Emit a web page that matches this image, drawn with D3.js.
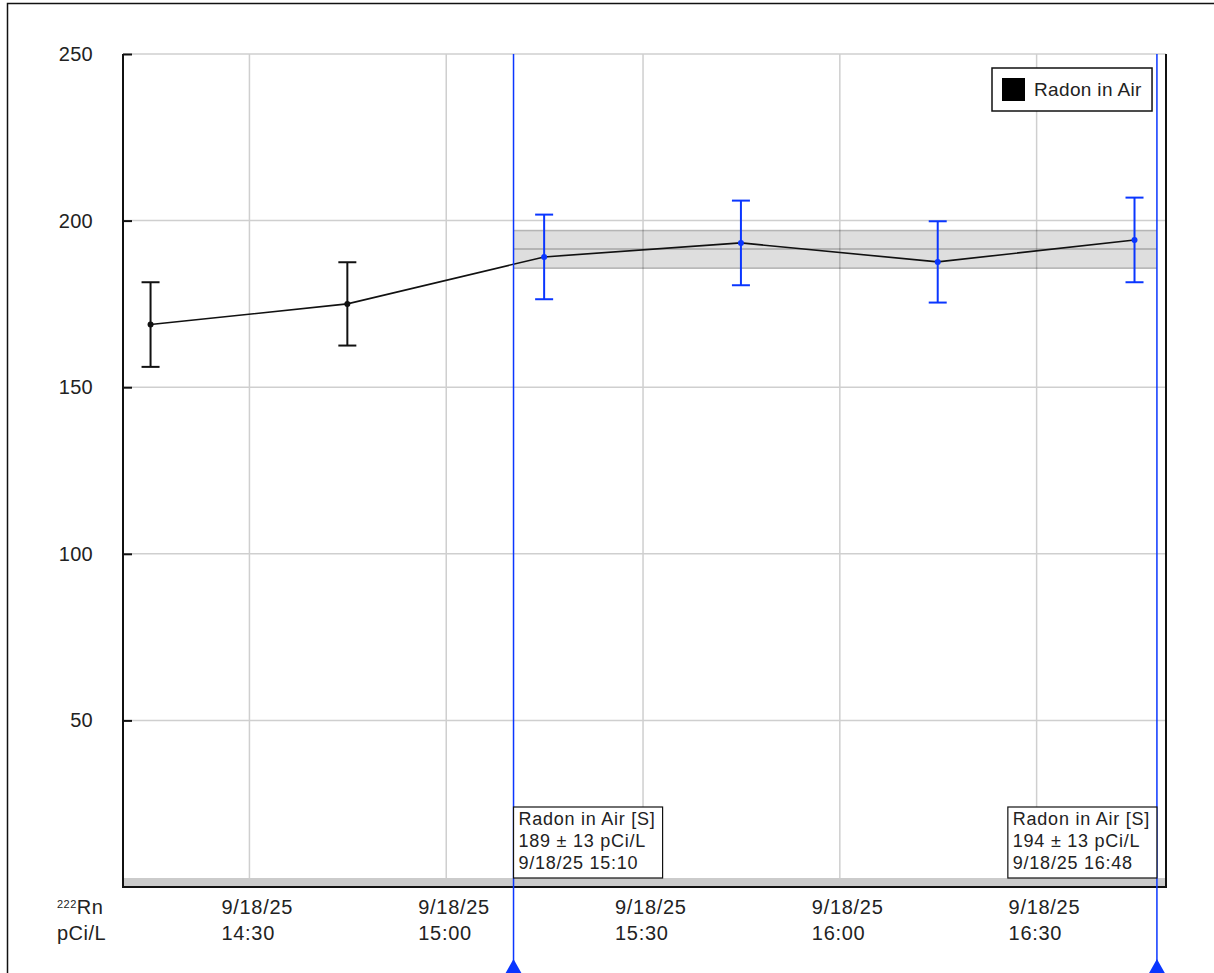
<!DOCTYPE html>
<html>
<head>
<meta charset="utf-8">
<script src="https://cdn.jsdelivr.net/npm/d3@7"></script>
<style>
  body { margin: 0; background: #fff; }
  svg { display: block; font-family: "Liberation Sans", Arial, Helvetica, sans-serif; }
</style>
</head>
<body>
<div id="chart"></div>
<script>
// Radon in Air readings, 9/18/25, with two cursors and the averaged band between them
const day = "9/18/25";
const sampleTimes = ["14:15:00", "14:45:00", "15:15:00", "15:45:00", "16:15:00", "16:45:00"];
const radonValues = [168.8, 175.0, 189.1, 193.3, 187.6, 194.2];
const radonErrors = [12.7, 12.5, 12.7, 12.7, 12.2, 12.7];
const xTickTimes = ["14:30:00", "15:00:00", "15:30:00", "16:00:00", "16:30:00"];
const yTickValues = [50, 100, 150, 200, 250];
const xDomainTimes = ["14:10:48", "16:49:48"];
const cursorTimes = ["15:10:20", "16:48:25"];
const cursorLabels = [
    ["Radon in Air [S]", "189 \u00b1 13 pCi/L", "9/18/25 15:10"],
    ["Radon in Air [S]", "194 \u00b1 13 pCi/L", "9/18/25 16:48"]
];
const bandValues = [185.7, 191.5, 197.0]; // low, mean, high
const legendLabel = "Radon in Air";

const W = 1214, H = 973;
const plot = { left: 123, right: 1166, top: 54, bottom: 887 };
const blue = "#0a36ff";
const textColor = "#222";

const parse = d3.timeParse("%m/%d/%y %H:%M:%S");
const toDate = t => parse(`${day} ${t}`);

const data = sampleTimes.map((t, i) => ({
    date: toDate(t),
    value: radonValues[i],
    err: radonErrors[i]
}));
const cursors = cursorTimes.map(toDate);

const svg = d3.select("#chart").append("svg")
    .attr("width", W)
    .attr("height", H);

// outer frame
svg.append("rect")
    .attr("x", 7.5).attr("y", 3.5)
    .attr("width", W + 20).attr("height", H + 20)
    .attr("fill", "#fff")
    .attr("stroke", "#111")
    .attr("stroke-width", 1.5);

const x = d3.scaleTime()
    .domain(xDomainTimes.map(toDate))
    .range([plot.left, plot.right]);

const y = d3.scaleLinear()
    .domain([0, 250])
    .range([plot.bottom, plot.top]);

// gridlines
svg.append("g")
    .selectAll("line.vgrid")
    .data(xTickTimes.map(toDate))
    .join("line")
    .attr("x1", d => x(d) + 0.5).attr("x2", d => x(d) + 0.5)
    .attr("y1", plot.top).attr("y2", plot.bottom)
    .attr("stroke", "#cfcfcf").attr("stroke-width", 1.5);

svg.append("g")
    .selectAll("line.hgrid")
    .data(yTickValues)
    .join("line")
    .attr("x1", plot.left).attr("x2", plot.right)
    .attr("y1", d => y(d)).attr("y2", d => y(d))
    .attr("stroke", "#cfcfcf").attr("stroke-width", 1.5);

// bottom gray strip
svg.append("rect")
    .attr("x", plot.left).attr("y", y(0) - 9)
    .attr("width", plot.right - plot.left).attr("height", 9)
    .attr("fill", "#cbcbcb");

// averaged band between the cursors
const bandG = svg.append("g");
bandG.append("rect")
    .attr("x", x(cursors[0])).attr("y", y(bandValues[2]))
    .attr("width", x(cursors[1]) - x(cursors[0]))
    .attr("height", y(bandValues[0]) - y(bandValues[2]))
    .attr("fill", "rgba(0,0,0,0.13)");
bandG.selectAll("line")
    .data(bandValues)
    .join("line")
    .attr("x1", x(cursors[0])).attr("x2", x(cursors[1]))
    .attr("y1", d => y(d)).attr("y2", d => y(d))
    .attr("stroke", "rgba(0,0,0,0.25)").attr("stroke-width", 1.5);

// y axis ticks + labels
const yAxis = svg.append("g")
    .attr("transform", `translate(${plot.left},0)`)
    .call(d3.axisLeft(y).tickValues(yTickValues).tickSize(-9).tickPadding(30));
yAxis.select(".domain").remove();
yAxis.selectAll(".tick line").attr("stroke", "#111").attr("stroke-width", 2);
yAxis.selectAll(".tick text")
    .attr("font-size", 20).attr("fill", textColor)
    .attr("letter-spacing", 0.3)
    .attr("font-family", "'Liberation Sans', Arial, sans-serif");

// x axis labels (two lines, left aligned near gridline)
const xAxis = svg.append("g")
    .attr("transform", `translate(0,${plot.bottom})`)
    .call(d3.axisBottom(x).tickValues(xTickTimes.map(toDate)).tickSize(0));
xAxis.select(".domain").remove();
xAxis.selectAll(".tick text").each(function (d) {
    const t = d3.select(this)
        .text(null)
        .attr("y", 0).attr("dy", null)
        .attr("x", -28)
        .attr("text-anchor", "start")
        .attr("font-size", 20).attr("fill", textColor)
        .attr("letter-spacing", 0.7)
        .attr("font-family", "'Liberation Sans', Arial, sans-serif");
    t.append("tspan").attr("x", -28).attr("y", 27).text(d3.timeFormat("%-m/%d/%y")(d));
    t.append("tspan").attr("x", -28).attr("y", 53).text(d3.timeFormat("%H:%M")(d));
});

// unit label
const unit = svg.append("text")
    .attr("x", 57).attr("y", plot.bottom + 27)
    .attr("font-size", 20).attr("fill", textColor)
    .attr("letter-spacing", 0.5);
unit.append("tspan").attr("font-size", 11).attr("dy", -6).text("222");
unit.append("tspan").attr("dy", 6).text("Rn");
svg.append("text")
    .attr("x", 57).attr("y", plot.bottom + 53)
    .attr("font-size", 20).attr("fill", textColor)
    .attr("letter-spacing", 0.5)
    .text("pCi/L");

// plot frame: left, bottom, right
svg.append("line")
    .attr("x1", plot.left).attr("x2", plot.left)
    .attr("y1", plot.top).attr("y2", plot.bottom)
    .attr("stroke", "#111").attr("stroke-width", 2);
svg.append("line")
    .attr("x1", plot.left - 1).attr("x2", plot.right + 1)
    .attr("y1", plot.bottom).attr("y2", plot.bottom)
    .attr("stroke", "#111").attr("stroke-width", 2);
svg.append("line")
    .attr("x1", plot.right).attr("x2", plot.right)
    .attr("y1", plot.top).attr("y2", plot.bottom)
    .attr("stroke", "#111").attr("stroke-width", 2);

// data line
const line = d3.line()
    .x(d => x(d.date))
    .y(d => y(d.value));
svg.append("path")
    .datum(data)
    .attr("fill", "none")
    .attr("stroke", "#111")
    .attr("stroke-width", 1.6)
    .attr("d", line);

// error bars and points; inside cursor range drawn blue
const inRange = d => d.date >= cursors[0] && d.date <= cursors[1];
const colorOf = d => inRange(d) ? blue : "#111";
const pts = svg.append("g").selectAll("g").data(data).join("g");
pts.append("line")
    .attr("x1", d => x(d.date)).attr("x2", d => x(d.date))
    .attr("y1", d => y(d.value + d.err)).attr("y2", d => y(d.value - d.err))
    .attr("stroke", colorOf).attr("stroke-width", 2);
pts.selectAll("line.cap")
    .data(d => [{ d, v: d.value + d.err }, { d, v: d.value - d.err }])
    .join("line")
    .attr("class", "cap")
    .attr("x1", c => x(c.d.date) - 9).attr("x2", c => x(c.d.date) + 9)
    .attr("y1", c => y(c.v)).attr("y2", c => y(c.v))
    .attr("stroke", c => colorOf(c.d)).attr("stroke-width", 2);
pts.append("circle")
    .attr("cx", d => x(d.date)).attr("cy", d => y(d.value))
    .attr("r", 3)
    .attr("fill", colorOf);

// cursors
const cur = svg.append("g").selectAll("g").data(cursors).join("g");
cur.append("line")
    .attr("x1", d => x(d)).attr("x2", d => x(d))
    .attr("y1", plot.top).attr("y2", H)
    .attr("stroke", blue).attr("stroke-width", 1.5);
cur.append("path")
    .attr("d", d => `M${x(d)},959L${x(d) - 9},975L${x(d) + 9},975Z`)
    .attr("fill", blue);

// cursor readouts
cursors.forEach((c, i) => {
    const g = svg.append("g");
    const box = g.append("rect")
        .attr("fill", "#fff")
        .attr("stroke", "#111")
        .attr("stroke-width", 1.2);
    const txt = g.append("text")
        .attr("font-size", 18)
        .attr("letter-spacing", 0.75)
        .attr("fill", textColor);
    cursorLabels[i].forEach((s, k) => {
        txt.append("tspan").attr("x", 0).attr("y", k * 22).text(s);
    });
    const bb = txt.node().getBBox();
    const bw = bb.width + 12;
    const bx = i === 0 ? x(c) : x(c) - bw;
    const by = plot.bottom - 9 - 71;
    box.attr("x", bx).attr("y", by).attr("width", bw).attr("height", 71);
    txt.attr("transform", `translate(${bx + 5},${by + 18})`);
});

// legend
const leg = svg.append("g").attr("transform", "translate(992,68)");
const legText = leg.append("text")
    .attr("x", 42).attr("y", 28)
    .attr("font-size", 19).attr("fill", textColor)
    .attr("letter-spacing", 0.35)
    .text(legendLabel);
const lw = legText.node().getBBox().width + 52;
leg.insert("rect", "text")
    .attr("width", lw).attr("height", 43)
    .attr("fill", "#fff").attr("stroke", "#111").attr("stroke-width", 1.5);
leg.append("rect")
    .attr("x", 10).attr("y", 10)
    .attr("width", 23).attr("height", 23)
    .attr("fill", "#000");
</script>
</body>
</html>
